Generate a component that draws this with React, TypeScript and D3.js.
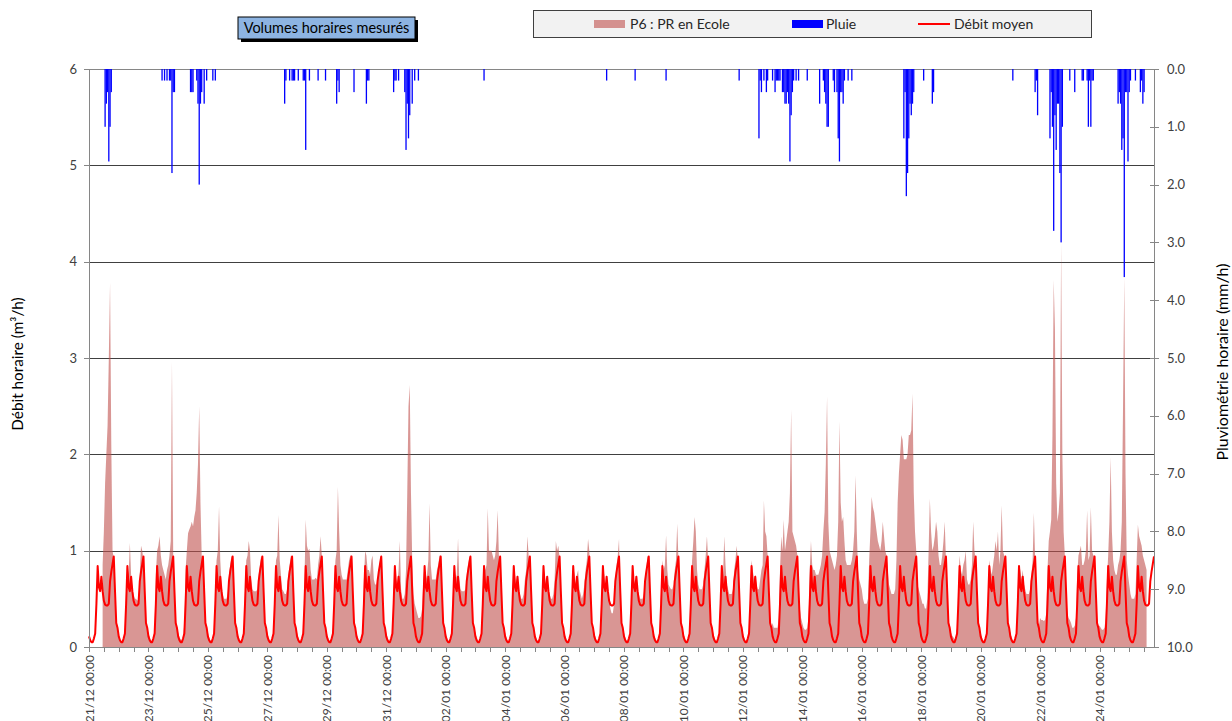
import * as d3 from "d3";

// hours counted from 21/12 00:00
const heureFin = 860;

// mean daily profile (m3/h), hour 0..23
const debitMoyenProfil = [0.11, 0.07, 0.05, 0.05, 0.09, 0.14, 0.45, 0.84, 0.62, 0.58, 0.73, 0.58,
  0.48, 0.44, 0.43, 0.43, 0.45, 0.68, 0.78, 0.86, 0.94, 0.58, 0.25, 0.2];

// P6 : PR en Ecole, measured hourly flow (m3/h), one row per day
const debitP6: (number | null)[][] = [
  [null, null, null, null, null, null, null, null, null, null, null, 0.85, 1.2, 1.7, 2.0, 2.3, 3.0, 3.78, 2.1, 1.0, 0.92, 0.45, 0.3, 0.2], // 21/12
  [0.12, 0.08, 0.05, 0.05, 0.08, 0.15, 0.6, 0.85, 0.75, 1.08, 0.75, 0.6, 0.55, 0.5, 0.5, 0.48, 0.5, 0.75, 1.05, 1.0, 0.9, 0.5, 0.25, 0.18],
  [0.15, 0.1, 0.07, 0.06, 0.1, 0.2, 0.75, 1.0, 1.05, 1.15, 0.95, 0.85, 0.8, 0.75, 0.7, 0.8, 0.85, 0.95, 1.1, 2.96, 0.95, 0.5, 0.3, 0.2],
  [0.15, 0.1, 0.08, 0.07, 0.1, 0.25, 0.8, 1.0, 1.18, 1.22, 1.25, 1.3, 1.25, 1.35, 1.42, 1.6, 1.9, 2.5, 1.5, 0.95, 0.92, 0.55, 0.3, 0.2],
  [0.15, 0.1, 0.07, 0.06, 0.08, 0.15, 0.6, 0.9, 1.0, 1.46, 0.9, 0.65, 0.55, 0.5, 0.5, 0.5, 0.55, 0.75, 0.85, 0.95, 0.9, 0.5, 0.3, 0.2], // 25/12
  [0.15, 0.1, 0.07, 0.06, 0.08, 0.15, 0.6, 0.9, 0.95, 1.1, 1.0, 0.7, 0.6, 0.58, 0.58, 0.58, 0.6, 0.75, 0.85, 0.95, 0.9, 0.55, 0.28, 0.2],
  [0.15, 0.1, 0.07, 0.06, 0.08, 0.15, 0.6, 0.9, 0.95, 1.37, 0.9, 0.75, 0.6, 0.58, 0.55, 0.55, 0.6, 0.75, 0.85, 0.95, 0.92, 0.5, 0.25, 0.18],
  [0.15, 0.1, 0.07, 0.06, 0.08, 0.2, 0.7, 1.32, 1.05, 1.0, 1.02, 0.8, 0.7, 0.7, 0.7, 0.72, 0.7, 0.85, 0.95, 1.15, 0.95, 0.5, 0.3, 0.2],
  [0.15, 0.1, 0.07, 0.06, 0.08, 0.15, 0.6, 0.9, 1.0, 1.66, 1.2, 0.85, 0.75, 0.7, 0.7, 0.7, 0.7, 0.8, 0.9, 0.95, 0.95, 0.55, 0.3, 0.2],
  [0.15, 0.1, 0.07, 0.06, 0.08, 0.15, 0.7, 1.0, 0.95, 0.8, 0.8, 0.75, 0.9, 0.95, 0.7, 0.65, 0.65, 0.7, 0.8, 0.9, 0.95, 0.5, 0.25, 0.18], // 30/12
  [0.15, 0.1, 0.07, 0.06, 0.08, 0.15, 0.6, 0.85, 0.7, 0.65, 0.8, 1.1, 0.6, 0.5, 0.5, 0.55, 0.8, 1.6, 2.5, 2.72, 1.6, 0.9, 0.55, 0.45],
  [0.4, 0.35, 0.3, 0.3, 0.32, 0.4, 0.7, 0.85, 0.7, 0.75, 0.9, 1.49, 0.85, 0.7, 0.7, 0.7, 0.7, 0.8, 0.85, 0.95, 0.95, 0.55, 0.28, 0.2],
  [0.15, 0.1, 0.07, 0.06, 0.08, 0.15, 0.6, 0.85, 0.7, 0.75, 1.13, 0.7, 0.6, 0.58, 0.58, 0.58, 0.6, 0.75, 0.85, 0.92, 0.95, 0.5, 0.28, 0.2],
  [0.15, 0.1, 0.07, 0.06, 0.08, 0.15, 0.6, 0.85, 0.8, 0.85, 1.44, 1.0, 1.0, 1.0, 0.95, 0.9, 0.95, 1.1, 1.42, 0.95, 0.9, 0.5, 0.28, 0.2],
  [0.15, 0.1, 0.07, 0.06, 0.08, 0.15, 0.6, 0.85, 0.75, 0.65, 0.75, 0.6, 0.55, 0.5, 0.5, 0.55, 0.7, 0.8, 1.15, 0.95, 0.85, 0.45, 0.25, 0.18], // 04/01
  [0.15, 0.1, 0.07, 0.06, 0.08, 0.15, 0.6, 0.85, 0.75, 0.65, 0.75, 0.6, 0.55, 0.5, 0.5, 0.55, 0.7, 1.1, 1.0, 1.05, 0.92, 0.5, 0.25, 0.18],
  [0.15, 0.1, 0.07, 0.06, 0.08, 0.15, 0.6, 0.85, 0.75, 0.65, 0.75, 0.8, 0.6, 0.55, 0.5, 0.55, 0.65, 0.8, 0.9, 1.12, 1.0, 0.5, 0.25, 0.18],
  [0.15, 0.1, 0.07, 0.06, 0.08, 0.15, 0.6, 0.85, 0.75, 0.65, 0.75, 0.6, 0.5, 0.4, 0.35, 0.35, 0.45, 0.7, 0.85, 0.95, 1.12, 0.5, 0.25, 0.18],
  [0.15, 0.1, 0.07, 0.06, 0.08, 0.15, 0.6, 0.85, 0.7, 0.65, 0.75, 0.6, 0.55, 0.5, 0.5, 0.5, 0.55, 0.7, 0.8, 0.95, 0.9, 0.45, 0.25, 0.18],
  [0.15, 0.1, 0.07, 0.06, 0.08, 0.15, 0.6, 0.9, 0.8, 0.85, 1.16, 0.8, 0.65, 0.62, 0.6, 0.6, 0.65, 0.8, 0.9, 1.28, 0.9, 0.5, 0.25, 0.18], // 09/01
  [0.15, 0.1, 0.07, 0.06, 0.08, 0.15, 0.6, 0.9, 1.1, 1.35, 1.2, 0.8, 0.65, 0.6, 0.6, 0.6, 0.65, 0.8, 0.95, 1.15, 0.9, 0.5, 0.25, 0.18],
  [0.15, 0.1, 0.07, 0.06, 0.08, 0.15, 0.6, 0.85, 0.75, 1.15, 0.85, 0.65, 0.6, 0.55, 0.55, 0.55, 0.6, 0.8, 0.9, 1.05, 0.9, 0.5, 0.25, 0.18],
  [0.15, 0.1, 0.07, 0.06, 0.08, 0.15, 0.6, 0.9, 0.8, 0.7, 0.75, 0.65, 0.6, 0.6, 0.7, 0.8, 0.85, 1.52, 1.2, 1.15, 0.95, 0.5, 0.3, 0.2],
  [0.25, 0.2, 0.2, 0.2, 0.2, 0.3, 0.8, 1.15, 1.0, 1.32, 1.0, 1.1, 1.2, 1.3, 1.6, 2.46, 1.2, 1.15, 1.1, 1.05, 0.95, 0.6, 0.4, 0.3],
  [0.25, 0.2, 0.18, 0.18, 0.2, 0.3, 0.8, 1.1, 0.85, 0.8, 0.8, 0.75, 0.75, 0.75, 0.8, 0.85, 0.95, 1.2, 1.4, 1.9, 2.6, 1.3, 1.0, 0.95], // 14/01
  [0.9, 0.85, 0.8, 0.85, 0.95, 1.3, 2.34, 1.5, 1.3, 1.35, 1.1, 0.9, 0.85, 0.85, 0.85, 0.85, 0.9, 1.0, 1.2, 1.78, 1.2, 0.8, 0.7, 0.65],
  [0.6, 0.5, 0.45, 0.45, 0.45, 0.5, 0.9, 1.2, 1.56, 1.45, 1.4, 1.3, 1.2, 1.1, 1.05, 1.0, 1.1, 1.3, 1.15, 1.0, 0.95, 0.8, 0.65, 0.6],
  [0.55, 0.55, 0.55, 0.6, 0.9, 1.5, 1.8, 2.0, 2.2, 2.15, 1.95, 1.95, 1.95, 2.0, 2.2, 2.2, 2.25, 2.63, 1.6, 1.2, 1.0, 0.65, 0.6, 0.55],
  [0.5, 0.45, 0.45, 0.4, 0.4, 0.5, 1.0, 1.54, 1.2, 1.0, 1.05, 1.15, 1.3, 1.2, 0.95, 0.85, 0.85, 0.95, 1.1, 1.3, 0.9, 0.45, 0.3, 0.2],
  [0.15, 0.12, 0.1, 0.08, 0.1, 0.2, 0.65, 0.95, 0.8, 0.75, 0.85, 0.9, 1.0, 0.7, 0.65, 0.65, 0.7, 0.85, 1.3, 1.0, 0.9, 0.5, 0.25, 0.18], // 19/01
  [0.15, 0.1, 0.07, 0.06, 0.08, 0.15, 0.6, 0.9, 0.8, 0.75, 0.85, 0.95, 1.1, 1.0, 1.2, 0.85, 1.0, 1.47, 1.0, 0.95, 0.9, 0.5, 0.25, 0.18],
  [0.15, 0.1, 0.07, 0.06, 0.08, 0.15, 0.6, 0.85, 0.8, 0.7, 0.8, 0.65, 0.6, 0.55, 0.55, 0.55, 0.6, 0.75, 0.9, 1.39, 0.92, 0.6, 0.3, 0.22],
  [0.3, 0.28, 0.28, 0.27, 0.28, 0.35, 0.8, 1.1, 1.2, 1.32, 2.2, 3.81, 3.3, 1.7, 1.3, 1.4, 1.6, 4.19, 2.0, 1.2, 0.95, 0.6, 0.35, 0.3],
  [0.28, 0.25, 0.2, 0.2, 0.22, 0.3, 0.75, 0.95, 1.0, 1.05, 0.85, 0.85, 0.9, 1.0, 1.42, 0.9, 0.95, 1.45, 1.0, 0.95, 0.95, 0.5, 0.3, 0.22],
  [0.22, 0.2, 0.18, 0.18, 0.2, 0.3, 0.7, 0.95, 1.3, 1.97, 1.2, 0.9, 0.8, 0.75, 0.75, 0.85, 0.9, 1.0, 1.3, 2.5, 3.84, 1.8, 0.9, 0.75],
  [0.65, 0.55, 0.5, 0.5, 0.5, 0.55, 0.9, 1.27, 1.15, 1.1, 1.05, 0.95, 0.9, 0.85, 0.8], // 25/01
];

// rain: [hour, mm/h]
const pluie: [number, number][] = [
  [13, 1.0], [14, 0.6], [15, 0.4], [16, 1.6], [17, 1.0], [18, 0.4],
  [59, 0.2], [61, 0.2], [63, 0.2], [65, 0.2], [66, 0.2], [67, 1.8], [68, 0.4], [69, 0.4],
  [82, 0.4], [83, 0.4], [84, 0.4], [87, 0.2], [88, 0.6], [89, 2.0], [90, 0.6], [91, 0.4], [93, 0.6], [95, 0.2], [100, 0.2], [102, 0.2],
  [158, 0.6], [159, 0.2], [162, 0.2], [164, 0.2], [165, 0.2], [166, 0.2], [169, 0.2], [173, 0.2], [174, 0.2], [175, 1.4],
  [178, 0.2], [185, 0.2], [191, 0.2], [200, 0.6], [201, 0.2], [202, 0.4], [214, 0.4], [224, 0.6], [225, 0.2], [226, 0.2],
  [246, 0.4], [247, 0.2], [248, 0.2], [250, 0.2], [255, 0.4], [256, 1.4], [257, 0.6], [258, 1.2], [259, 0.8], [261, 0.6], [263, 0.2], [266, 0.2],
  [319, 0.2], [418, 0.2], [441, 0.2], [466, 0.2], [525, 0.2],
  [541, 1.2], [542, 0.2], [543, 0.4], [545, 0.2], [547, 0.4], [548, 0.2], [552, 0.2], [554, 0.4], [555, 0.2], [556, 0.2], [557, 0.2], [558, 0.2],
  [560, 0.4], [561, 0.4], [562, 0.6], [563, 0.6], [564, 0.4], [565, 0.6], [566, 1.6], [567, 0.8], [568, 0.4], [569, 0.2], [571, 0.2], [573, 0.2], [580, 0.2],
  [590, 0.6], [593, 0.2], [594, 0.4], [595, 0.6], [596, 1.0], [597, 1.0], [601, 0.2], [602, 0.4], [604, 0.4], [605, 1.2], [606, 1.6],
  [607, 0.4], [608, 0.4], [609, 0.6], [610, 0.2], [613, 0.2], [616, 0.2],
  [658, 1.2], [659, 0.4], [660, 2.2], [661, 1.8], [662, 1.2], [663, 0.6], [664, 0.8], [665, 0.6], [666, 0.4], [674, 0.2], [681, 0.6], [682, 0.4],
  [746, 0.2], [764, 0.4], [765, 0.2], [766, 0.8],
  [776, 1.2], [777, 0.4], [778, 1.0], [779, 2.8], [780, 0.8], [781, 1.4], [782, 0.6], [783, 0.6], [784, 1.8], [785, 3.0], [786, 1.0],
  [792, 0.2], [796, 0.4], [802, 0.2], [803, 0.2], [806, 0.2], [807, 1.0], [808, 0.2], [809, 1.0], [810, 0.2], [811, 0.2],
  [831, 0.6], [832, 0.4], [833, 0.6], [834, 1.4], [835, 1.2], [836, 3.6], [837, 0.4], [838, 0.4], [839, 1.6], [840, 0.4], [841, 0.2],
  [845, 0.2], [849, 0.4], [850, 0.2], [851, 0.6], [852, 0.4],
];

const ticksDebit = [0, 1, 2, 3, 4, 5, 6];
const ticksPluie = [0, 1, 2, 3, 4, 5, 6, 7, 8, 9, 10];
const labelsX = ["21/12 00:00", "23/12 00:00", "25/12 00:00", "27/12 00:00", "29/12 00:00", "31/12 00:00",
  "02/01 00:00", "04/01 00:00", "06/01 00:00", "08/01 00:00", "10/01 00:00", "12/01 00:00",
  "14/01 00:00", "16/01 00:00", "18/01 00:00", "20/01 00:00", "22/01 00:00", "24/01 00:00"];

const font = "Lato, 'Open Sans', sans-serif";

export default function App() {
  const left = 89, right = 1154, top = 69, bottom = 647;

  const x = d3.scaleLinear().domain([0, heureFin]).range([left, right]);
  const y = d3.scaleLinear().domain([0, 6]).range([bottom, top]);
  const y2 = d3.scaleLinear().domain([0, 10]).range([top, bottom]);

  const p6 = debitP6
    .flatMap((jour, d) => jour.map((v, h) => ({ h: d * 24 + h, v })))
    .filter((p) => p.v != null) as { h: number; v: number }[];

  const moyen = d3.range(0, heureFin + 1).map((h) => ({ h, v: debitMoyenProfil[h % 24] }));

  const aire = d3.area<{ h: number; v: number }>()
    .x((d) => x(d.h))
    .y0(y(0))
    .y1((d) => y(d.v));
  const ligne = d3.line<{ h: number; v: number }>()
    .x((d) => x(d.h))
    .y((d) => y(d.v));

  const ticksX = d3.range(0, heureFin, 12);

  return (
    <svg width={1232} height={721} style={{ position: "absolute", left: 0, top: 0, background: "#fff" }} fontFamily={font}>
      {/* title box */}
      <rect x={241} y={20} width={177} height={22} fill="#000" />
      <rect x={238} y={17} width={177} height={22} fill="#8db4e2" stroke="#000" strokeWidth={1} />
      <text x={326.5} y={33} textAnchor="middle" fontSize={14.5} fill="#000">Volumes horaires mesurés</text>

      {/* legend */}
      <rect x={533.5} y={10.5} width={558} height={27} fill="#f2f2f2" stroke="#404040" strokeWidth={1} />
      <rect x={594} y={20} width={31} height={8} fill="#c0504d" fillOpacity={0.6} />
      <text x={630} y={29} fontSize={14} fill="#262626">P6 : PR en Ecole</text>
      <rect x={792} y={20} width={31} height={8} fill="#0000ff" />
      <text x={826} y={29} fontSize={14} fill="#262626">Pluie</text>
      <line x1={918} x2={950} y1={24} y2={24} stroke="#ff0000" strokeWidth={2} />
      <text x={954} y={29} fontSize={14} fill="#262626">Débit moyen</text>

      {/* grid */}
      {ticksDebit.filter((t) => t > 0).map((t) => (
        <line key={t} x1={left} x2={right} y1={Math.round(y(t)) + 0.5} y2={Math.round(y(t)) + 0.5}
          stroke={t === 6 ? "#868686" : "#404040"} strokeWidth={1} />
      ))}

      {/* measured flow */}
      <path d={aire(p6) ?? ""} fill="#c0504d" fillOpacity={0.6} />

      {/* rain */}
      {pluie.map(([h, mm]) => (
        <rect key={h} x={x(h) - 0.65} width={1.3} y={top} height={y2(mm) - top} fill="#0000ff" />
      ))}

      {/* mean flow */}
      <path d={ligne(moyen) ?? ""} fill="none" stroke="#ff0000" strokeWidth={2} strokeLinejoin="round" />

      {/* axes */}
      <line x1={left + 0.5} x2={left + 0.5} y1={top} y2={bottom} stroke="#868686" />
      <line x1={right + 0.5} x2={right + 0.5} y1={top} y2={bottom} stroke="#868686" />
      <line x1={left} x2={right} y1={bottom + 0.5} y2={bottom + 0.5} stroke="#868686" />

      {ticksDebit.map((t) => (
        <g key={t}>
          <line x1={left - 5} x2={left} y1={Math.round(y(t)) + 0.5} y2={Math.round(y(t)) + 0.5} stroke="#868686" />
          <text x={77} y={y(t) + 4.5} textAnchor="end" fontSize={13} fill="#404040">{t}</text>
        </g>
      ))}

      {ticksPluie.map((t) => (
        <g key={t}>
          <line x1={right - 4} x2={right + 5} y1={Math.round(y2(t)) + 0.5} y2={Math.round(y2(t)) + 0.5} stroke="#868686" />
          <text x={1167} y={y2(t) + 4.5} fontSize={13} fill="#404040">{t.toFixed(1)}</text>
        </g>
      ))}

      {ticksX.map((h) => (
        <line key={h} x1={Math.round(x(h)) + 0.5} x2={Math.round(x(h)) + 0.5} y1={bottom} y2={bottom + 5} stroke="#868686" />
      ))}
      {labelsX.map((l, i) => (
        <text key={l} transform={`translate(${x(i * 48) + 4.5},${bottom + 8}) rotate(-90)`} textAnchor="end"
          fontSize={12} fill="#404040">{l}</text>
      ))}

      <text transform="translate(23,364) rotate(-90)" textAnchor="middle" fontSize={15.3} fill="#000">Débit horaire (m³/h)</text>
      <text transform="translate(1228,362) rotate(-90)" textAnchor="middle" fontSize={16} fill="#000">Pluviométrie horaire (mm/h)</text>
    </svg>
  );
}
